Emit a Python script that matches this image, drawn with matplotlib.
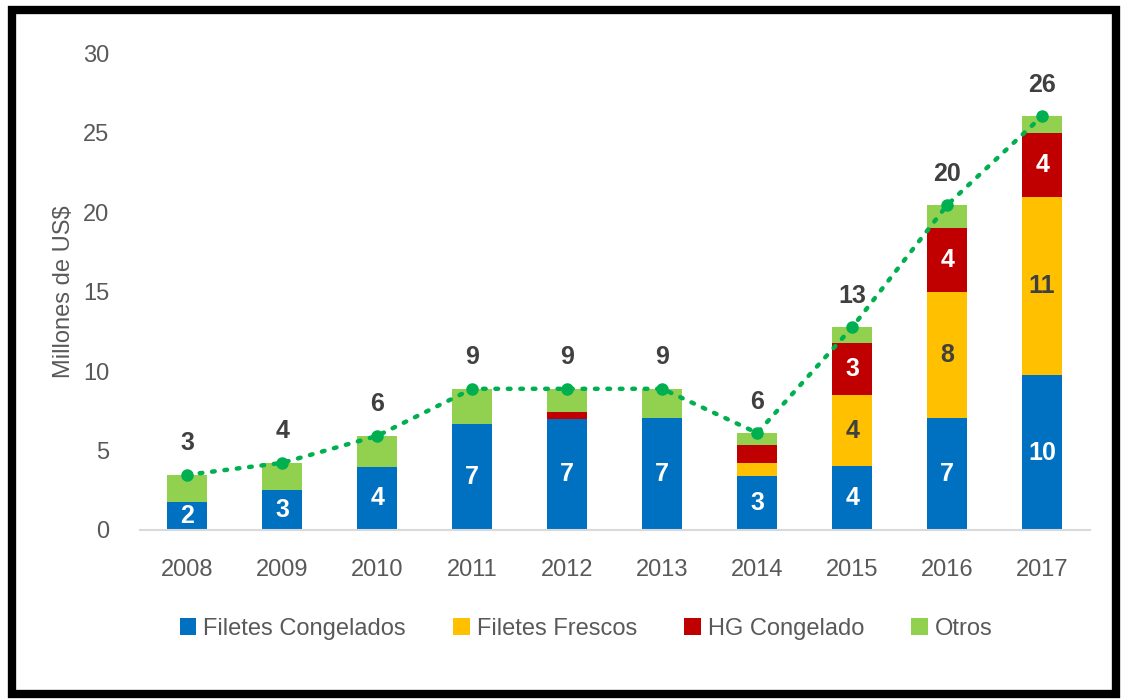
import matplotlib
matplotlib.use("Agg")
import matplotlib.pyplot as plt
import numpy as np
from matplotlib.patches import Rectangle

plt.rcParams["font.family"] = ["Liberation Sans Narrow", "Liberation Sans", "DejaVu Sans"]

# Exportaciones por producto, millones de US$
years = ["2008", "2009", "2010", "2011", "2012", "2013", "2014", "2015", "2016", "2017"]
filetes_congelados = [1.76, 2.52, 3.97, 6.68, 7.00, 7.06, 3.40, 4.05, 7.06, 9.72]
filetes_frescos = [0, 0, 0, 0, 0, 0, 0.82, 4.41, 7.94, 11.22]
hg_congelado = [0, 0, 0, 0, 0.44, 0, 1.14, 3.32, 3.97, 4.01]
otros = [1.71, 1.70, 1.95, 2.20, 1.44, 1.82, 0.74, 0.97, 1.48, 1.09]

series = [
    ("Filetes Congelados", filetes_congelados, "#0070C0", "white"),
    ("Filetes Frescos", filetes_frescos, "#FFC000", "#404040"),
    ("HG Congelado", hg_congelado, "#C00000", "white"),
    ("Otros", otros, "#92D050", None),
]

fig = plt.figure(figsize=(11.28, 7.0), dpi=100)
ax = fig.add_axes([0.124, 0.243, 0.842, 0.681])

x = np.arange(len(years))
bottom = np.zeros(len(years))
for name, vals, color, txtcolor in series:
    vals = np.array(vals, dtype=float)
    ax.bar(x, vals, 0.42, bottom=bottom, color=color, label=name, zorder=2)
    if txtcolor:
        for xi, b, v in zip(x, bottom, vals):
            if v > 1.5:
                ax.text(xi, b + v / 2, f"{round(v):d}", ha="center", va="center",
                        color=txtcolor, fontsize=18, fontweight="bold", zorder=3)
    bottom += vals

total = bottom
ax.plot(x, total, color="#00B050", lw=3.2, ls=(0, (0.6, 2.2)), dash_capstyle="round",
        marker="o", ms=8, zorder=4)
for xi, t in zip(x, total):
    ax.annotate(f"{round(t):d}", (xi, t), xytext=(0, 14), textcoords="offset points",
                ha="center", va="bottom", fontsize=18, fontweight="bold", color="#404040")

ax.set_xlim(-0.5, 9.5)
ax.set_ylim(0, 30)
ax.set_yticks(range(0, 31, 5))
ax.set_xticks(x)
ax.set_xticklabels(years)
ax.tick_params(axis="both", length=0, labelsize=17, colors="#595959")
ax.tick_params(axis="x", pad=21)
ax.tick_params(axis="y", pad=22)
for s in ["top", "right", "left"]:
    ax.spines[s].set_visible(False)
ax.spines["bottom"].set_color("#D9D9D9")
ax.spines["bottom"].set_linewidth(1.5)
ax.set_ylabel("Millones de US$", fontsize=17, color="#595959", labelpad=6)

ax.legend(loc="upper center", bbox_to_anchor=(0.47, -0.14), ncol=4, frameon=False,
          fontsize=17, labelcolor="#595959", handlelength=0.7, handleheight=0.7,
          handletextpad=0.3, columnspacing=2.0)

fig.patches.append(Rectangle((0.011, 0.008), 0.978, 0.978, transform=fig.transFigure,
                             fill=False, edgecolor="black", lw=6))

fig.savefig("out.png", dpi=100)
